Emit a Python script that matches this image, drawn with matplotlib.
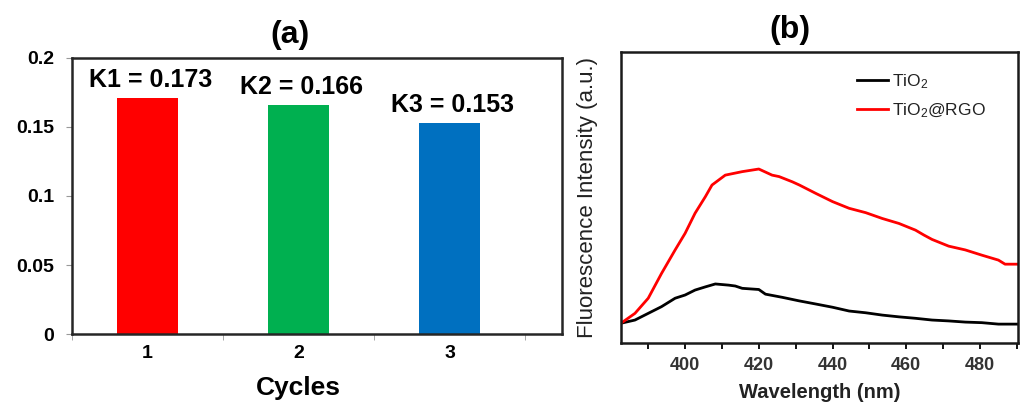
import matplotlib
matplotlib.use('Agg')
import matplotlib.pyplot as plt
from matplotlib.ticker import FixedLocator

plt.rcParams['font.family'] = ['Liberation Sans', 'DejaVu Sans']
plt.rcParams['mathtext.fontset'] = 'custom'
plt.rcParams['mathtext.rm'] = 'Liberation Sans'
plt.rcParams['mathtext.it'] = 'Liberation Sans:italic'

# (a) rate constants per cycle
cycles = [1, 2, 3]
rate_k = [0.171, 0.166, 0.153]
rate_labels = ['K1 = 0.173', 'K2 = 0.166', 'K3 = 0.153']
bar_colors = ['#FF0000', '#00B050', '#0070C0']
a_yticks = [0, 0.05, 0.1, 0.15, 0.2]
a_yticklabels = ['0', '0.05', '0.1', '0.15', '0.2']

# (b) fluorescence spectra (arbitrary units)
wl_tio2 = [382.6, 386.4, 390, 393.6, 397.3, 400, 402.7, 405.5, 408.2, 411.8,
           413.6, 415.5, 420, 421.8, 426.4, 430.9, 435.5, 440, 444.5, 449,
           453.5, 458, 462.5, 467, 471.5, 476, 480.5, 485, 490.3]
pl_tio2 = [6.8, 7.9, 10.2, 12.5, 15.4, 16.5, 18.2, 19.3, 20.3, 19.9,
           19.6, 18.8, 18.4, 16.8, 15.7, 14.5, 13.4, 12.3, 11.0, 10.4,
           9.6, 9.0, 8.5, 7.9, 7.6, 7.2, 7.0, 6.5, 6.5]

wl_rgo = [382.6, 386.4, 390, 393.6, 397.3, 400, 402.7, 405.5, 407.3, 410.9,
          415.5, 420, 423.6, 425.5, 429.1, 431, 435.5, 440, 444.5, 449,
          453.5, 458, 462.5, 464.8, 467, 471.5, 476, 480.5, 485, 486.8, 490.3]
pl_rgo = [6.8, 10.2, 15.4, 23.9, 32.0, 37.7, 44.6, 50.3, 54.3, 57.7,
          58.9, 59.8, 57.7, 57.2, 55.4, 54.3, 51.4, 48.6, 46.3, 44.8,
          42.8, 41.1, 38.8, 37.1, 35.6, 33.3, 32.0, 30.2, 28.5, 27.1, 27.1]

b_xticks = [400, 420, 440, 460, 480]
b_minor = [390, 410, 430, 450, 470, 490]

fig = plt.figure(figsize=(10.24, 4.05), dpi=100)

# ---- panel (a)
ax1 = fig.add_axes([0.0703, 0.1753, 0.4785, 0.6815])
ax1.bar(cycles, rate_k, width=0.4, color=bar_colors)
for x, h, lab in zip(cycles, rate_k, rate_labels):
    ax1.annotate(lab, (x, h), xytext=(2, 4), textcoords='offset points',
                 ha='center', va='bottom', fontsize=18, fontweight='bold')
ax1.set_xlim(0.5, 3.745)
ax1.set_ylim(0, 0.2)
ax1.set_yticks(a_yticks)
ax1.set_yticklabels(a_yticklabels)
ax1.set_xticks(cycles)
ax1.xaxis.set_minor_locator(FixedLocator([0.5, 1.5, 2.5, 3.5]))
ax1.tick_params(axis='x', which='major', length=0, pad=8, labelsize=14)
ax1.tick_params(axis='x', which='minor', length=4, color='#999999')
ax1.tick_params(axis='y', length=4, color='#999999', pad=9, labelsize=14)
for lab in ax1.get_xticklabels() + ax1.get_yticklabels():
    lab.set_fontweight('bold')
for sp in ax1.spines.values():
    sp.set_linewidth(1.8)
    sp.set_color('#262626')
fig.text(298 / 1024, 1 - 388 / 405, 'Cycles', fontsize=19, fontweight='bold',
         ha='center', va='center')
fig.text(290 / 1024, 1 - 35 / 405, '(a)', fontsize=23, fontweight='bold',
         ha='center', va='center')

# ---- panel (b)
ax2 = fig.add_axes([0.6064, 0.153, 0.3877, 0.7185])
ax2.plot(wl_tio2, pl_tio2, color='black', lw=2, label='TiO$_2$')
ax2.plot(wl_rgo, pl_rgo, color='#FF0000', lw=2, label='TiO$_2$@RGO')
ax2.set_xlim(382.6, 490.3)
ax2.set_ylim(0, 100)
ax2.set_yticks([])
ax2.set_xticks(b_xticks)
ax2.xaxis.set_minor_locator(FixedLocator(b_minor))
ax2.tick_params(axis='x', which='both', length=4, width=1.3, pad=6,
                labelsize=13, labelcolor='#333333')
for lab in ax2.get_xticklabels():
    lab.set_fontweight('bold')
for sp in ax2.spines.values():
    sp.set_linewidth(1.8)
    sp.set_color('#1a1a1a')
fig.text(820 / 1024, 1 - 392 / 405, 'Wavelength (nm)', fontsize=14.5,
         fontweight='bold', color='#222222', ha='center', va='center')
fig.text(587 / 1024, 1 - 197 / 405, 'Fluorescence Intensity (a.u.)',
         rotation=90, fontsize=16, ha='center', va='center', color='#222222')
ax2.legend(loc='upper left', bbox_to_anchor=(0.555, 0.985), frameon=False,
           fontsize=12.5, handlelength=1.8, handletextpad=0.2, labelspacing=0.6,
           labelcolor='#222222')
fig.text(790 / 1024, 1 - 30 / 405, '(b)', fontsize=23, fontweight='bold',
         ha='center', va='center')

fig.savefig('out.png', dpi=100)
